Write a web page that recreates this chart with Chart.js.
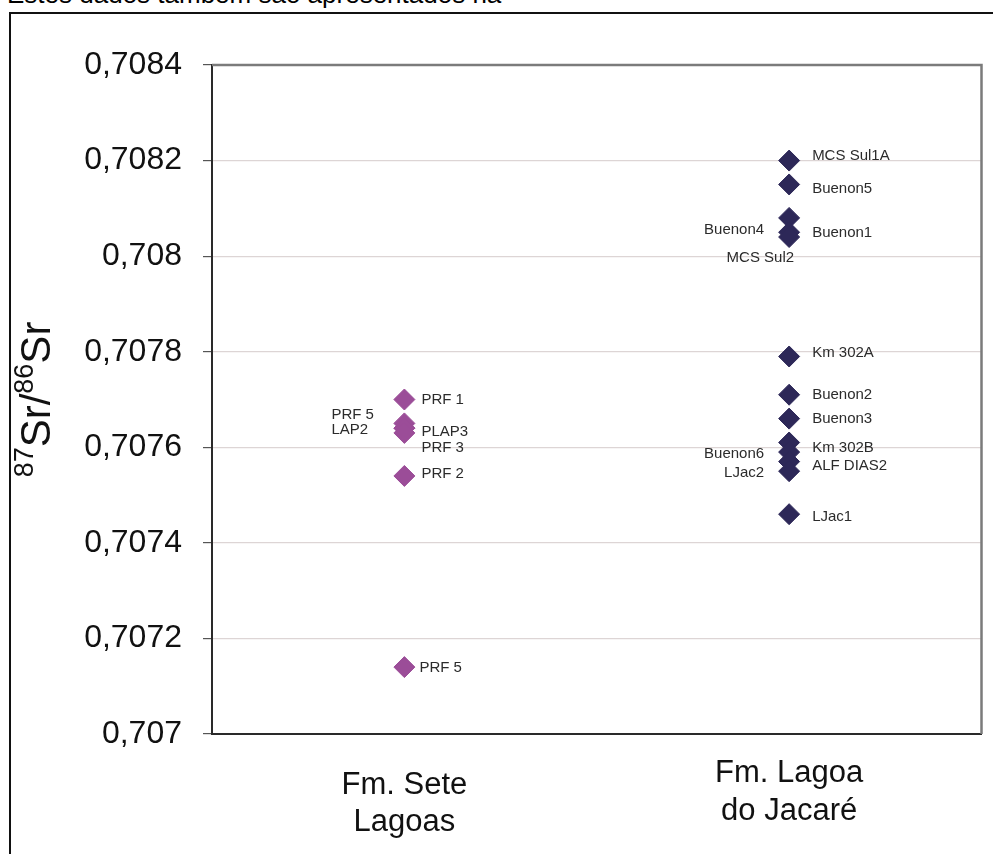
<!DOCTYPE html>
<html>
<head>
<meta charset="utf-8">
<title>87Sr/86Sr — Fm. Sete Lagoas e Fm. Lagoa do Jacaré</title>
<script src="https://cdn.jsdelivr.net/npm/chart.js@4.4.1/dist/chart.umd.min.js"></script>
<style>
  html, body { margin: 0; padding: 0; background: #fff; overflow: hidden; }
  #page { position: relative; width: 993px; height: 854px; overflow: hidden; }
  #lead { position: absolute; left: 7px; top: -21px; font: 26px "Liberation Sans", Arial, sans-serif; color: #000; white-space: nowrap; }
  #frame { position: absolute; left: 9px; top: 12px; width: 1100px; height: 1000px; border-left: 2px solid #111; border-top: 2px solid #111; }
  #chart { position: absolute; left: 0; top: 0; }
</style>
</head>
<body>
<div id="page">
  <div id="lead">Estes dados também são apresentados na</div>
  <div id="frame"></div>
  <canvas id="chart" width="993" height="854"></canvas>
</div>
<script>
// Formations on the x axis (multi-line tick labels)
const categories = [['Fm. Sete', 'Lagoas'], ['Fm. Lagoa', 'do Jacaré']];

// y axis ticks and their printed labels (decimal comma)
const yTicks = [0.707, 0.7072, 0.7074, 0.7076, 0.7078, 0.708, 0.7082, 0.7084];
const yTickLabels = ['0,707', '0,7072', '0,7074', '0,7076', '0,7078', '0,708', '0,7082', '0,7084'];

// Fm. Sete Lagoas samples
const seteSamples = ['PRF 1', 'PRF 5', 'LAP2', 'PLAP3', 'PRF 3', 'PRF 2', 'PRF 5'];
const seteRatios  = [0.70770, 0.70765, 0.70764, 0.70764, 0.70763, 0.70754, 0.70714];

// Fm. Lagoa do Jacaré samples
const jacareSamples = ['MCS Sul1A', 'Buenon5', 'Buenon4', 'Buenon1', 'MCS Sul2', 'Km 302A', 'Buenon2',
                       'Buenon3', 'Km 302B', 'Buenon6', 'ALF DIAS2', 'LJac2', 'LJac1'];
const jacareRatios  = [0.70820, 0.70815, 0.70808, 0.70805, 0.70804, 0.70779, 0.70771,
                       0.70766, 0.70761, 0.70759, 0.70757, 0.70755, 0.70746];

// Where each sample name sits relative to its marker: text alignment, dx, dy (px)
const seteLabelPlacement = [
  ['left', 17, 0], ['left', -73, -9], ['left', -73, 2], ['left', 17, 4],
  ['left', 17, 15], ['left', 17, -2], ['left', 15, 1]
];
const jacareLabelPlacement = [
  ['left', 23, -5], ['left', 23, 4], ['right', -25, 12], ['left', 23, 1], ['right', 5, 21],
  ['left', 23, -4], ['left', 23, 0], ['left', 23, 0], ['left', 23, 5], ['right', -25, 2],
  ['left', 23, 4], ['right', -25, 2], ['left', 23, 3]
];

const FONT = '"Liberation Sans", Arial, Helvetica, sans-serif';

function points(catIndex, values) {
  return values.map(v => ({ x: catIndex + 0.5, y: v }));
}

// Sample names beside the markers
const sampleLabels = {
  id: 'sampleLabels',
  afterDatasetsDraw(chart) {
    const ctx = chart.ctx;
    ctx.save();
    ctx.font = '15px ' + FONT;
    ctx.fillStyle = '#2b2b2b';
    ctx.textBaseline = 'middle';
    chart.data.datasets.forEach((ds, di) => {
      const meta = chart.getDatasetMeta(di);
      meta.data.forEach((pt, i) => {
        const [align, dx, dy] = ds.labelPlacement[i];
        ctx.textAlign = align;
        ctx.fillText(ds.sampleNames[i], pt.x + dx, pt.y + dy);
      });
    });
    ctx.restore();
  }
};

// Grey frame on the top and right of the plot area
const plotFrame = {
  id: 'plotFrame',
  beforeDatasetsDraw(chart) {
    const { ctx, chartArea: a } = chart;
    ctx.save();
    ctx.strokeStyle = '#7b7b7b';
    ctx.lineWidth = 2.5;
    ctx.beginPath();
    ctx.moveTo(a.left, a.top);
    ctx.lineTo(a.right, a.top);
    ctx.lineTo(a.right, a.bottom);
    ctx.stroke();
    ctx.restore();
  }
};

// Rotated y axis title with superscript isotope masses
const yTitle = {
  id: 'yTitle',
  afterDraw(chart) {
    const ctx = chart.ctx;
    const a = chart.chartArea;
    const parts = [
      { t: '87', sup: true }, { t: 'Sr/', sup: false },
      { t: '86', sup: true }, { t: 'Sr', sup: false }
    ];
    const mainFont = '42px ' + FONT, supFont = '27px ' + FONT;
    ctx.save();
    let total = 0;
    parts.forEach(p => { ctx.font = p.sup ? supFont : mainFont; p.w = ctx.measureText(p.t).width; total += p.w; });
    ctx.translate(50, (a.top + a.bottom) / 2);
    ctx.rotate(-Math.PI / 2);
    ctx.fillStyle = '#111';
    ctx.textBaseline = 'alphabetic';
    ctx.textAlign = 'left';
    let x = -total / 2;
    parts.forEach(p => {
      ctx.font = p.sup ? supFont : mainFont;
      ctx.fillText(p.t, x, p.sup ? -17 : 0);
      x += p.w;
    });
    ctx.restore();
  }
};

const categoryTickFont = { family: FONT, size: 31, lineHeight: 1.22 };

// One bottom axis per formation so each caption can sit at its own depth.
// The Sete Lagoas caption uses a mirrored, zero-height axis (no label clipping).
function categoryAxis(catIndex, weight, height, padding, mirror, showBorder) {
  return {
    type: 'linear',
    position: 'bottom',
    weight: weight,
    min: 0,
    max: categories.length,
    afterBuildTicks(scale) { scale.ticks = [{ value: catIndex + 0.5 }]; },
    afterFit(scale) { scale.height = height; },
    grid: { display: false, drawTicks: false },
    border: { display: showBorder, color: '#2a2a2a', width: 2 },
    ticks: {
      autoSkip: false,
      maxRotation: 0,
      mirror: mirror,
      padding: padding,
      color: '#111',
      font: categoryTickFont,
      callback: () => categories[catIndex]
    }
  };
}

new Chart(document.getElementById('chart'), {
  type: 'scatter',
  data: {
    datasets: [
      {
        label: 'Fm. Sete Lagoas',
        data: points(0, seteRatios),
        sampleNames: seteSamples,
        labelPlacement: seteLabelPlacement,
        xAxisID: 'x',
        backgroundColor: '#9b4d98',
        borderColor: '#9b4d98',
        borderWidth: 1,
        pointStyle: 'rectRot',
        pointRadius: 10.5,
        pointHoverRadius: 10.5
      },
      {
        label: 'Fm. Lagoa do Jacaré',
        data: points(1, jacareRatios),
        sampleNames: jacareSamples,
        labelPlacement: jacareLabelPlacement,
        xAxisID: 'x',
        backgroundColor: '#2d2858',
        borderColor: '#2d2858',
        borderWidth: 1,
        pointStyle: 'rectRot',
        pointRadius: 10.5,
        pointHoverRadius: 10.5
      }
    ]
  },
  options: {
    responsive: false,
    animation: false,
    devicePixelRatio: 1,
    events: [],
    layout: { padding: { top: 65, right: 5, left: 0, bottom: 0 } },
    plugins: {
      legend: { display: false },
      tooltip: { enabled: false }
    },
    scales: {
      xSete: categoryAxis(0, 0, 0, -70, true, false),
      x: categoryAxis(1, 1, 120, 21, false, true),
      y: {
        type: 'linear',
        min: yTicks[0],
        max: yTicks[yTicks.length - 1],
        afterBuildTicks(scale) {
          scale.ticks = yTicks.map(v => ({ value: v }));
        },
        afterFit(scale) { scale.width = 212; },
        grid: {
          color: ctx => (ctx.tick && (ctx.index === 0 || ctx.index === yTicks.length - 1)) ? 'rgba(0,0,0,0)' : '#ddd5d5',
          lineWidth: 1.2,
          drawTicks: true,
          tickLength: 9,
          tickColor: '#555'
        },
        border: { display: true, color: '#2a2a2a', width: 2 },
        ticks: {
          autoSkip: false,
          padding: 21,
          color: '#111',
          font: { family: FONT, size: 32 },
          callback: (v, i) => yTickLabels[i]
        }
      }
    }
  },
  plugins: [plotFrame, sampleLabels, yTitle]
});
</script>
</body>
</html>
